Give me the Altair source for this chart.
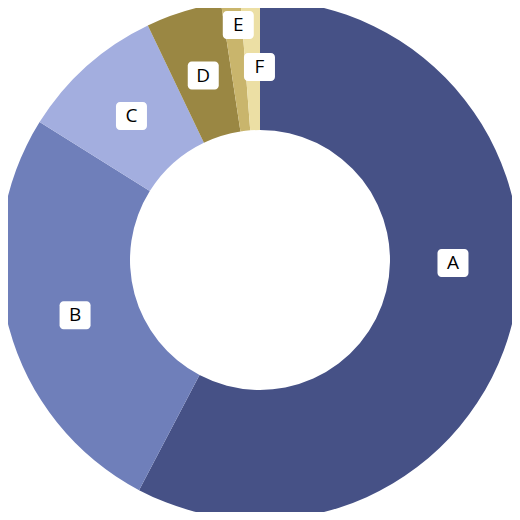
import altair as alt
import pandas as pd

categories = ["A", "B", "C", "D", "E", "F"]
values = [57.7, 26.2, 9.0, 4.7, 1.2, 1.2]
colors = ["#465186", "#6f7fba", "#a3aedf", "#9a8743", "#c9b56c", "#ecdfa4"]

df = pd.DataFrame({"category": categories, "value": values})

CX, CY = 252, 252

base = alt.Chart(df)

arc = base.mark_arc(innerRadius=130, outerRadius=260).encode(
    theta=alt.Theta("value:Q", stack=True),
    color=alt.Color("category:N", scale=alt.Scale(domain=categories, range=colors), legend=None),
    order=alt.Order("category:N", sort="ascending"),
    x=alt.value(CX),
    y=alt.value(CY),
)

labels = base.transform_joinaggregate(
    total="sum(value)"
).transform_window(
    cum="sum(value)", sort=[alt.SortField("category", order="ascending")]
).transform_calculate(
    mid="(datum.cum - datum.value / 2) / datum.total * 2 * PI",
).transform_calculate(
    ang="datum.category == 'A' ? datum.mid - 13 * PI / 180 : (datum.category == 'F' ? datum.mid + 2 * PI / 180 : (datum.category == 'E' ? datum.mid + 1.2 * PI / 180 : (datum.category == 'B' ? datum.mid - 1.5 * PI / 180 : datum.mid)))",
    rad="datum.category == 'E' ? 236 : 193",
).transform_calculate(
    lx=f"{CX} + datum.rad * sin(datum.ang)",
    ly=f"{CY} - datum.rad * cos(datum.ang)",
).transform_calculate(
    bx1="datum.lx - 15.5",
    bx2="datum.lx + 15.5",
    by1="datum.ly - 14",
    by2="datum.ly + 14",
)

boxes = labels.mark_rect(fill="white", cornerRadius=4).encode(
    x=alt.X("bx1:Q", scale=None, axis=None),
    x2=alt.X2("bx2:Q"),
    y=alt.Y("by1:Q", scale=None, axis=None),
    y2=alt.Y2("by2:Q"),
)

texts = labels.mark_text(
    font="Open Sans", fontSize=19, color="black", align="center", baseline="middle"
).encode(
    x=alt.X("lx:Q", scale=None, axis=None),
    y=alt.Y("ly:Q", scale=None, axis=None),
    text="category:N",
)

chart = alt.layer(arc, boxes, texts).properties(
    width=504, height=504, padding=0, autosize="none"
).configure_view(strokeWidth=0)

chart.save("out.html", embed_options={"renderer": "svg", "actions": False})
